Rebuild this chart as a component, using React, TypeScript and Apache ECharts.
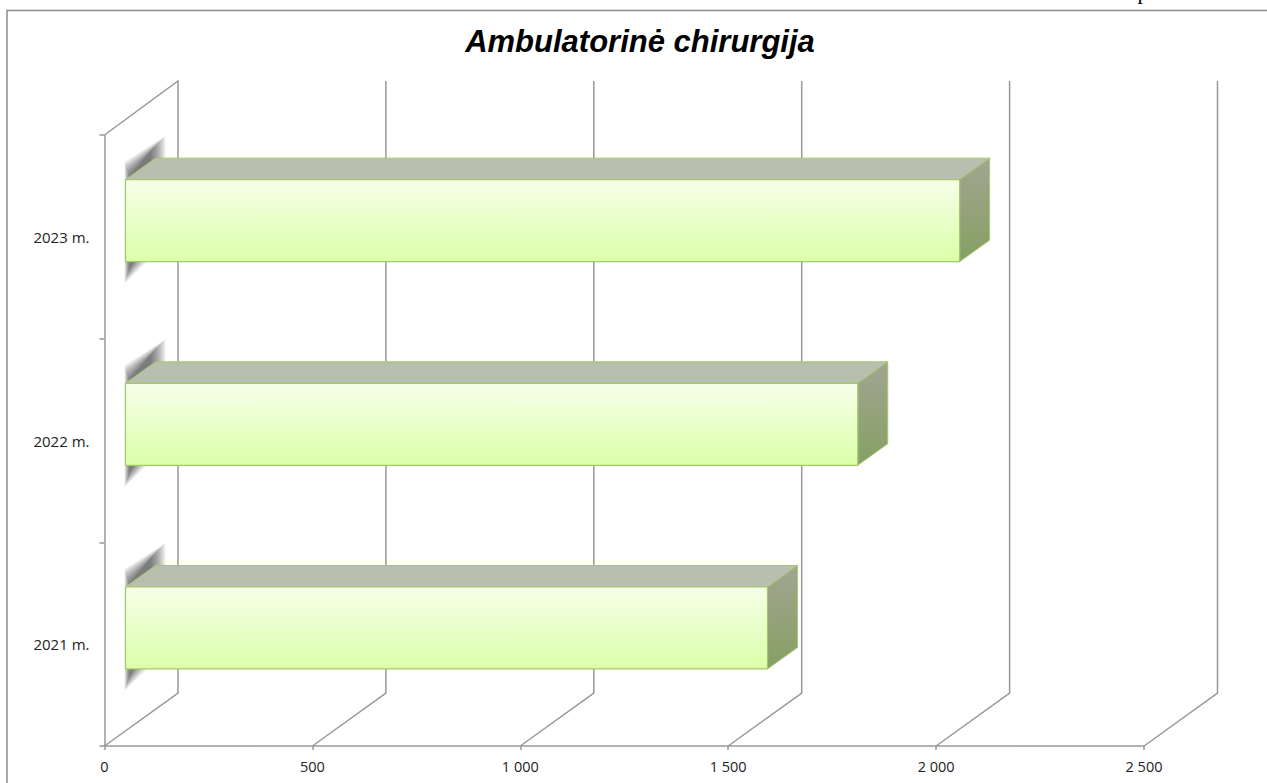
import React, { useEffect, useRef } from "react";
import * as echarts from "echarts";

const categories = ["2021 m.", "2022 m.", "2023 m."];
const values = [1544, 1761, 2006];
const xTicks = [0, 500, 1000, 1500, 2000, 2500];
const titleText = "Ambulatorinė chirurgija";

const DX = 73.5;
const DY = 53;

export default function App() {
  const ref = useRef<HTMLDivElement>(null);
  useEffect(() => {
    document.body.style.margin = "0";
    const chart = echarts.init(ref.current!, undefined, { renderer: "svg" });
    const lineColor = "#989898";
    chart.setOption({
      animation: false,
      backgroundColor: "#ffffff",
      title: {
        text: titleText,
        left: 635,
        top: 21,
        textAlign: "center",
        textStyle: {
          fontFamily: "Liberation Sans",
          fontSize: 31,
          fontWeight: "bold",
          fontStyle: "italic",
          color: "#000000",
        },
      },
      grid: { left: 104.5, top: 135, width: 1039.5, height: 611, containLabel: false },
      xAxis: {
        type: "value",
        min: 0,
        max: 2500,
        interval: 500,
        splitLine: { show: false },
        axisLine: { show: true, lineStyle: { color: lineColor, width: 1.5 } },
        axisTick: { show: true, length: 4, lineStyle: { color: lineColor, width: 1.5 } },
        axisLabel: {
          show: true,
          margin: 13,
          fontFamily: "Open Sans",
          fontSize: 14.5,
          color: "#222222",
          formatter: (v: number) => String(v).replace(/\B(?=(\d{3})+$)/g, " "),
        },
      },
      yAxis: {
        type: "category",
        data: categories,
        axisLine: { show: true, lineStyle: { color: lineColor, width: 1.5 } },
        axisTick: { show: true, length: 5, alignWithLabel: false, lineStyle: { color: lineColor, width: 1.5 } },
        axisLabel: { margin: 15, fontFamily: "Open Sans", fontSize: 15, color: "#222222" },
      },
      graphic: [
        {
          type: "polyline",
          shape: { points: [[7, 783], [7, 10.5], [1267, 10.5]] },
          style: { stroke: "#8c8c8c", lineWidth: 1.5, fill: "none" },
          silent: true,
        },
        {
          type: "text",
          x: 1143,
          y: -20,
          style: { text: "p", fontFamily: "Liberation Serif", fontSize: 22, fill: "#000", textAlign: "center" },
          silent: true,
        },
      ],
      series: [
        {
          type: "custom",
          name: "walls",
          coordinateSystem: "cartesian2d",
          z: 1,
          silent: true,
          data: xTicks.map((t) => [t, 0]),
          encode: { x: 0, y: 1 },
          renderItem: (params: any, api: any) => {
            const cs = params.coordSys;
            const x = api.coord([api.value(0), 0])[0];
            const bottom = cs.y + cs.height;
            const pts: number[][] = [
              [x, bottom],
              [x + DX, bottom - DY],
              [x + DX, cs.y - DY - 1],
            ];
            if (api.value(0) === 0) pts.push([x, cs.y]);
            return {
              type: "polyline",
              shape: { points: pts },
              style: { stroke: lineColor, lineWidth: 1.5, fill: "none" },
            };
          },
        },
        {
          type: "custom",
          name: "Ambulatorinė chirurgija",
          coordinateSystem: "cartesian2d",
          z: 2,
          silent: true,
          data: values.map((v, i) => [v, i]),
          encode: { x: 0, y: 1 },
          renderItem: (_params: any, api: any) => {
            const [x0, yc] = api.coord([0, api.value(1)]);
            const [x1] = api.coord([api.value(0), api.value(1)]);
            const L = x0 + 21;
            const R = x1 + 21;
            const T = yc - 57.2;
            const B = yc + 24.8;
            const ox = 30;
            const oy = 21.5;
            const border = "#a4c96c";
            const children: any[] = [];
            for (let s = 0; s < 16; s++) {
              children.push({
                type: "polygon",
                shape: {
                  points: [
                    [L - 1 + s * 0.35, T - 18 + s],
                    [L + 40 - s, T - 44 + s],
                    [L + 40 - s, B - 18 - s],
                    [L - 1 + s * 0.35, B + 22 - s],
                  ],
                },
                style: { fill: "rgba(50,50,50,0.06)", stroke: "none" },
              });
            }
            children.push(
              {
                type: "polygon",
                shape: { points: [[L, T], [L + ox, T - oy], [R + ox, T - oy], [R, T]] },
                style: { fill: "#b9bfae", stroke: border, lineWidth: 1 },
              },
              {
                type: "polygon",
                shape: { points: [[R, T], [R + ox, T - oy], [R + ox, B - oy], [R, B]] },
                style: {
                  fill: new echarts.graphic.LinearGradient(0, 0, 0, 1, [
                    { offset: 0, color: "#a2a592" },
                    { offset: 1, color: "#86a064" },
                  ]),
                  stroke: border,
                  lineWidth: 1,
                },
              },
              {
                type: "rect",
                shape: { x: L, y: T, width: R - L, height: B - T },
                style: {
                  fill: new echarts.graphic.LinearGradient(0, 0, 0, 1, [
                    { offset: 0, color: "#f6ffe9" },
                    { offset: 1, color: "#dcffa9" },
                  ]),
                  stroke: border,
                  lineWidth: 1.2,
                },
              }
            );
            return { type: "group", children };
          },
        },
      ],
    });
    return () => chart.dispose();
  }, []);
  return <div ref={ref} style={{ position: "absolute", left: 0, top: 0, width: 1267, height: 783 }} />;
}
